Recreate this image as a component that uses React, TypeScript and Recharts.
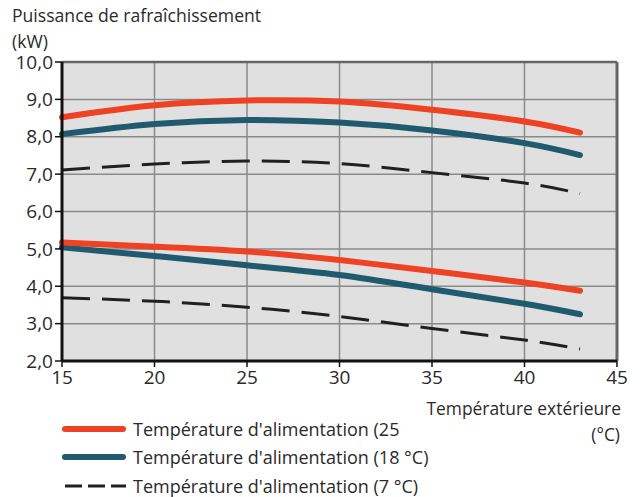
import { LineChart, Line, XAxis, YAxis, CartesianGrid, ReferenceLine } from "recharts";

// outdoor temperature (°C)
const temps = [15, 20, 25, 30, 35, 40, 43];

// cooling power (kW), upper = max, lower = min
const red25High = [8.52, 8.84, 8.97, 8.94, 8.72, 8.41, 8.11];
const teal18High = [8.07, 8.34, 8.45, 8.38, 8.17, 7.83, 7.51];
const dash7High = [7.11, 7.27, 7.35, 7.28, 7.04, 6.76, 6.48];
const red25Low = [5.17, 5.06, 4.93, 4.7, 4.41, 4.1, 3.88];
const teal18Low = [5.04, 4.81, 4.56, 4.3, 3.92, 3.53, 3.25];
const dash7Low = [3.69, 3.6, 3.44, 3.19, 2.87, 2.56, 2.32];

const xTicks = [15, 20, 25, 30, 35, 40, 45];
const yTicks = [2, 3, 4, 5, 6, 7, 8, 9, 10];

const legendItems = [
  { label: "Température d'alimentation (25 °C)", color: "#ef4123", dashed: false, clip: 272 },
  { label: "Température d'alimentation (18 °C)", color: "#1f5a6e", dashed: false, clip: 0 },
  { label: "Température d'alimentation (7 °C)", color: "#231f20", dashed: true, clip: 0 },
];

const rows = temps.map((t, i) => ({
  t,
  r1: red25High[i],
  b1: teal18High[i],
  d1: dash7High[i],
  r2: red25Low[i],
  b2: teal18Low[i],
  d2: dash7Low[i],
}));

const font = "'Open Sans', sans-serif";
const txt = "#2a2a2a";
const fmt = (v: number) => v.toFixed(1).replace(".", ",");

export default function App() {
  return (
    <div style={{ position: "absolute", left: 0, top: 0, width: 640, height: 497, fontFamily: font, color: txt }}>
      <div style={{ position: "absolute", left: 12, top: 5, fontSize: 17.6, lineHeight: "20px" }}>Puissance de rafraîchissement</div>
      <div style={{ position: "absolute", left: 12, top: 32, fontSize: 17.6, lineHeight: "18px" }}>(kW)</div>

      <LineChart width={640} height={497} data={rows} margin={{ top: 62, right: 23, bottom: 106, left: 0 }}>
        <CartesianGrid fill="#e0e0e0" stroke="#8a8a8a" strokeWidth={1.5} />
        <XAxis
          dataKey="t"
          type="number"
          domain={[15, 45]}
          ticks={xTicks}
          height={30}
          tickSize={6}
          tickMargin={4}
          axisLine={{ stroke: "#111", strokeWidth: 3 }}
          tickLine={{ stroke: "#111", strokeWidth: 1.5 }}
          tick={{ fontSize: 19, fill: txt, fontFamily: font }}
        />
        <YAxis
          type="number"
          domain={[2, 10]}
          ticks={yTicks}
          width={62}
          tickSize={7}
          tickMargin={2}
          tickFormatter={fmt}
          axisLine={{ stroke: "#111", strokeWidth: 3 }}
          tickLine={{ stroke: "#111", strokeWidth: 1.5 }}
          tick={{ fontSize: 19, fill: txt, fontFamily: font }}
        />
        <ReferenceLine y={10} stroke="#666" strokeWidth={2.5} />
        <ReferenceLine x={45} stroke="#666" strokeWidth={3} />
        <Line dataKey="d1" type="natural" stroke="#231f20" strokeWidth={3} strokeDasharray="28 12" dot={false} isAnimationActive={false} />
        <Line dataKey="d2" type="natural" stroke="#231f20" strokeWidth={3} strokeDasharray="28 12" dot={false} isAnimationActive={false} />
        <Line dataKey="b1" type="natural" stroke="#1f5a6e" strokeWidth={6} strokeLinecap="round" dot={false} isAnimationActive={false} />
        <Line dataKey="b2" type="natural" stroke="#1f5a6e" strokeWidth={6} strokeLinecap="round" dot={false} isAnimationActive={false} />
        <Line dataKey="r1" type="natural" stroke="#ef4123" strokeWidth={6} strokeLinecap="round" dot={false} isAnimationActive={false} />
        <Line dataKey="r2" type="natural" stroke="#ef4123" strokeWidth={6} strokeLinecap="round" dot={false} isAnimationActive={false} />
      </LineChart>

      <div style={{ position: "absolute", right: 19, top: 398, fontSize: 17.4, lineHeight: "20px" }}>Température extérieure</div>
      <div style={{ position: "absolute", right: 20, top: 424, fontSize: 17.4, lineHeight: "20px" }}>(°C)</div>

      {legendItems.map((it, i) => (
        <div key={it.label} style={{ position: "absolute", left: 62, top: 417 + i * 28.3, height: 24, display: "flex", alignItems: "center" }}>
          <svg width={64} height={10} style={{ marginRight: 7 }}>
            <line
              x1={3}
              y1={5}
              x2={it.dashed ? 64 : 61}
              y2={5}
              stroke={it.color}
              strokeWidth={it.dashed ? 3 : 6}
              strokeLinecap={it.dashed ? "butt" : "round"}
              strokeDasharray={it.dashed ? "17 6" : undefined}
            />
          </svg>
          <span
            style={{
              fontSize: 18,
              lineHeight: "24px",
              whiteSpace: "nowrap",
              ...(it.clip ? { overflow: "hidden", display: "inline-block", width: it.clip } : {}),
            }}
          >
            {it.label}
          </span>
        </div>
      ))}
    </div>
  );
}
